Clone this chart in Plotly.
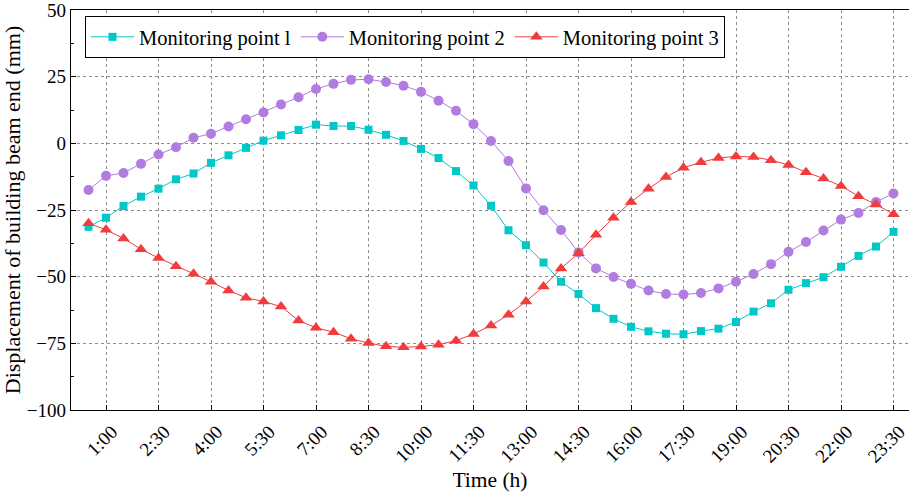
import plotly.graph_objects as go

hours = [0.5 * i for i in range(1, 48)]  # 0:30 .. 23:30 every 30 min

point1 = [-31.3, -27.9, -23.5, -20.0, -17.0, -13.5, -11.3, -7.3, -4.5, -1.7,
          1.0, 3.0, 5.0, 7.0, 6.5, 6.5, 5.1, 3.2, 0.9, -2.1,
          -5.5, -10.4, -15.8, -23.4, -32.6, -38.2, -44.7, -51.9, -56.5, -61.8,
          -65.8, -68.8, -70.5, -71.4, -71.6, -70.4, -69.5, -67.0, -63.1, -60.0,
          -54.9, -52.4, -50.2, -46.3, -42.2, -38.7, -33.2]

point2 = [-17.5, -12.2, -11.1, -7.7, -4.2, -1.5, 2.1, 3.6, 6.3, 9.0,
          11.6, 14.6, 17.3, 20.4, 22.3, 23.8, 24.0, 23.0, 21.6, 19.3,
          16.0, 12.2, 7.2, 0.9, -6.6, -16.9, -25.1, -32.5, -40.9, -46.9,
          -50.1, -52.7, -55.2, -56.5, -56.7, -56.1, -54.4, -51.9, -49.0, -45.3,
          -40.7, -37.0, -32.7, -28.6, -26.1, -22.0, -18.8]

point3 = [-30.0, -32.4, -35.7, -39.7, -43.0, -46.1, -48.9, -51.9, -55.2, -57.9,
          -59.3, -61.2, -66.4, -69.2, -70.8, -73.3, -74.9, -76.1, -76.5, -76.2,
          -75.5, -74.0, -71.5, -68.3, -64.3, -59.3, -53.7, -46.9, -41.2, -34.3,
          -27.9, -22.0, -17.0, -12.6, -9.2, -7.1, -5.5, -4.9, -5.1, -6.3,
          -8.1, -10.8, -13.2, -16.0, -19.8, -22.9, -26.6]

tick_labels = ["1:00", "2:30", "4:00", "5:30", "7:00", "8:30", "10:00", "11:30",
               "13:00", "14:30", "16:00", "17:30", "19:00", "20:30", "22:00", "23:30"]
tick_vals = [int(t.split(":")[0]) + int(t.split(":")[1]) / 60 for t in tick_labels]

y_ticks = [-100, -75, -50, -25, 0, 25, 50]
y_minor = [-87.5, -62.5, -37.5, -12.5, 12.5, 37.5]

series = [
    ("Monitoring point l", point1, "#00C8C8", "square", 8),
    ("Monitoring point 2", point2, "#B07CE0", "circle", 10),
    ("Monitoring point 3", point3, "#F03C3C", "triangle-up", 11),
]

fig = go.Figure()
for name, vals, color, sym, size in series:
    fig.add_trace(go.Scatter(
        x=hours, y=vals, name=name, mode="lines+markers",
        line=dict(color=color, width=1),
        marker=dict(symbol=sym, size=size, color=color),
    ))

font = "Liberation Serif, Times New Roman, serif"
grid = dict(showgrid=True, gridcolor="#8c8c8c", gridwidth=1, griddash="3px,3px")

fig.update_layout(
    width=909, height=492,
    margin=dict(l=71, r=0, t=8, b=82),
    plot_bgcolor="white", paper_bgcolor="white",
    font=dict(family=font, size=19, color="black"),
    showlegend=True,
    legend=dict(
        orientation="h", x=0.0167, y=0.985, xanchor="left", yanchor="top",
        bordercolor="black", borderwidth=1, bgcolor="white",
        font=dict(family=font, size=20.5, color="black"),
        tracegroupgap=0, itemwidth=43,
    ),
    xaxis=dict(
        range=[0, 23.943], tickvals=tick_vals, ticktext=tick_labels,
        tickangle=-45, ticks="inside", ticklen=5, tickcolor="black",
        ticklabelshift=6, ticklabelstandoff=2, ticklabeloverflow="allow",
        showline=True, linecolor="black", linewidth=1.3, mirror=True,
        zeroline=False,
        title=dict(text="Time (h)", font=dict(size=21.5), standoff=6),
        **grid,
    ),
    yaxis=dict(
        range=[-100, 50], tickvals=y_ticks, ticklabeloverflow="allow",
        ticks="inside", ticklen=5, tickcolor="black",
        minor=dict(tickvals=y_minor,
                   ticks="inside", ticklen=3, tickcolor="black", showgrid=False),
        showline=True, linecolor="black", linewidth=1.3,
        zeroline=False,
        title=dict(text="Displacement of building beam end (mm)", font=dict(size=22), standoff=4),
        **grid,
    ),
)

fig.write_html("out.html")
